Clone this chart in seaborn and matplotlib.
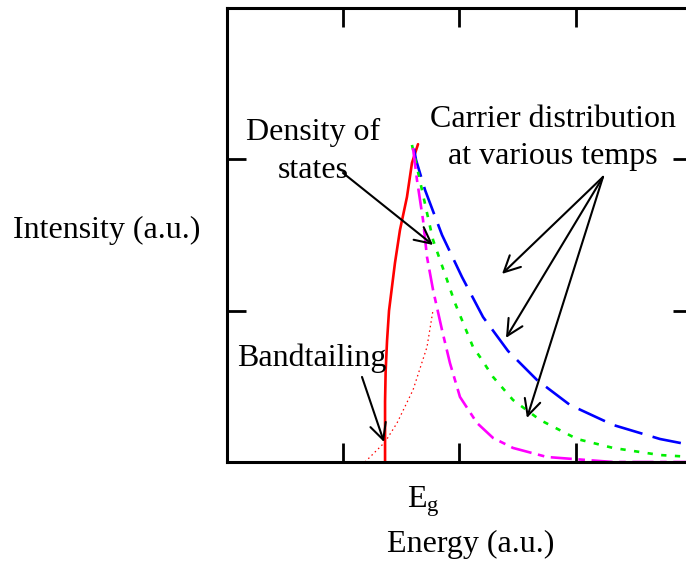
import matplotlib
matplotlib.use("Agg")
import matplotlib.pyplot as plt
import seaborn as sns

# ---- data (energy / intensity, arbitrary units) ----
dos_x = [1.361, 1.361, 1.366, 1.378, 1.395, 1.446, 1.489, 1.549, 1.592, 1.644]
dos_y = [0.0, 0.40, 0.60, 0.80, 1.00, 1.315, 1.533, 1.751, 1.976, 2.10]

tail_x = [1.189, 1.361, 1.464, 1.601, 1.721, 1.773]
tail_y = [0.0, 0.132, 0.258, 0.476, 0.760, 1.005]

hot_x = [1.609, 1.627, 1.704, 1.850, 2.021, 2.202, 2.416, 2.665, 2.948, 3.318, 3.721, 4.0]
hot_y = [2.07, 1.996, 1.798, 1.500, 1.223, 0.958, 0.734, 0.542, 0.377, 0.245, 0.152, 0.11]

mid_x = [1.592, 1.627, 1.721, 1.773, 1.893, 1.961, 2.116, 2.176, 2.288, 2.459, 2.691, 3.009, 3.318, 3.721, 4.0]
mid_y = [2.095, 1.976, 1.646, 1.467, 1.203, 1.051, 0.760, 0.694, 0.562, 0.410, 0.278, 0.152, 0.093, 0.046, 0.033]

cold_x = [1.601, 1.635, 1.687, 1.721, 1.773, 1.850, 1.918, 2.004, 2.150, 2.288, 2.459, 2.751, 3.318, 4.0]
cold_y = [2.075, 1.864, 1.599, 1.355, 1.137, 0.872, 0.654, 0.430, 0.258, 0.159, 0.093, 0.033, 0.0, 0.0]

x_ticks = [1, 2, 3]
y_ticks = [1, 2]

sns.set_theme(style="ticks")
plt.rcParams["font.family"] = ["Liberation Serif", "DejaVu Serif"]
plt.rcParams["mathtext.fontset"] = "custom"
plt.rcParams["mathtext.rm"] = "Liberation Serif"
plt.rcParams["mathtext.it"] = "Liberation Serif:italic"
plt.rcParams["text.color"] = "black"
plt.rcParams["axes.labelcolor"] = "black"

fig = plt.figure(figsize=(6.86, 5.61), dpi=100)
ax = fig.add_axes([226.5 / 686, 1 - 462 / 561, 466 / 686, 454 / 561])

sns.lineplot(x=tail_x, y=tail_y, ax=ax, color="#ff0000", lw=0.9, linestyle=(0, (1.2, 2.5)), sort=False, estimator=None)
sns.lineplot(x=dos_x, y=dos_y, ax=ax, color="#ff0000", lw=1.9, sort=False, estimator=None)
sns.lineplot(x=hot_x, y=hot_y, ax=ax, color="#0000ff", lw=1.9, linestyle=(0, (11, 4)), sort=False, estimator=None)
sns.lineplot(x=mid_x, y=mid_y, ax=ax, color="#00ee00", lw=1.9, linestyle=(0, (2, 3.2)), sort=False, estimator=None)
sns.lineplot(x=cold_x, y=cold_y, ax=ax, color="#ff00ff", lw=1.9, linestyle=(0, (8, 2.5, 2.5, 2.5)), sort=False, estimator=None)

ax.set_xlim(0, 4)
ax.set_ylim(0, 3)
ax.set_xticks(x_ticks)
ax.set_yticks(y_ticks)
ax.set_xticklabels([])
ax.set_yticklabels([])
ax.tick_params(direction="in", length=14, width=2, top=True, right=True, colors="black")
for s in ax.spines.values():
    s.set_linewidth(2.2)
    s.set_color("black")
    s.set_visible(True)

fs = 23
ax.set_xlabel("Energy (a.u.)", fontsize=fs, va="baseline")
ax.xaxis.set_label_coords(0.5247, -0.198)
ax.set_ylabel("Intensity (a.u.)", fontsize=fs, rotation=0, ha="center", va="baseline")
ax.yaxis.set_label_coords(-0.2575, 0.493)

ax.text(1.55, -0.30, r"$\mathregular{E_g}$", fontsize=fs, ha="left", va="baseline", clip_on=False)

arrow = dict(arrowstyle="->", lw=1.5, color="black", mutation_scale=29, shrinkA=0, shrinkB=0)

ax.text(0.742, 2.052, "Density of\nstates", fontsize=fs, ha="center", va="center", linespacing=1.38)
ax.annotate("", xy=(1.773, 1.434), xytext=(1.0, 1.910), arrowprops=arrow)

ax.text(2.803, 2.141, "Carrier distribution\nat various temps", fontsize=fs, ha="center", va="center", linespacing=1.38)
for hx, hy in [(2.365, 1.243), (2.399, 0.820), (2.579, 0.291)]:
    ax.annotate("", xy=(hx, hy), xytext=(3.232, 1.884), arrowprops=arrow)

ax.text(0.734, 0.687, "Bandtailing", fontsize=fs, ha="center", va="center")
ax.annotate("", xy=(1.352, 0.132), xytext=(1.163, 0.562), arrowprops=arrow)

fig.savefig("out.png", dpi=100)
